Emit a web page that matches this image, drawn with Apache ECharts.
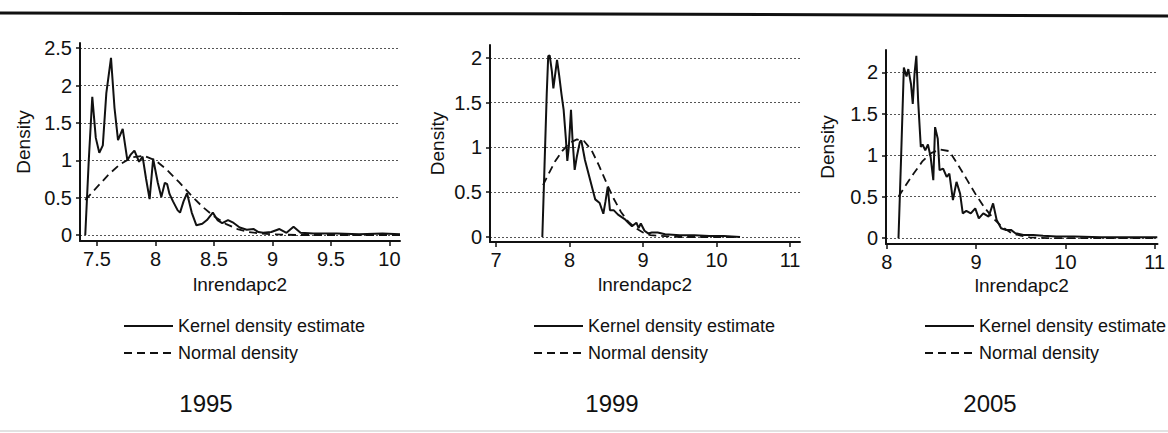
<!DOCTYPE html>
<html>
<head>
<meta charset="utf-8">
<script src="https://cdn.jsdelivr.net/npm/echarts@6/dist/echarts.min.js"></script>
<style>
html,body{margin:0;padding:0;background:#fff;}
#chart{width:1168px;height:433px;}
</style>
</head>
<body>
<div id="chart"></div>
<script>
// ---- data ----
const years = ['1995', '1999', '2005'];
const xTitle = 'lnrendapc2';
const yTitle = 'Density';
const legendNames = ['Kernel density estimate', 'Normal density'];

const xTicks1995 = [7.5, 8, 8.5, 9, 9.5, 10];
const xTicks1999 = [7, 8, 9, 10, 11];
const xTicks2005 = [8, 9, 10, 11];
const yTicks1995 = [0, 0.5, 1, 1.5, 2, 2.5];
const yTicks1999 = [0, 0.5, 1, 1.5, 2];
const yTicks2005 = [0, 0.5, 1, 1.5, 2];

const kernel1995 = [
  [7.40,0],[7.43,1.0],[7.46,1.85],[7.49,1.3],[7.52,1.1],[7.55,1.2],[7.58,1.9],[7.62,2.37],
  [7.65,1.7],[7.68,1.27],[7.72,1.42],[7.76,1.0],[7.79,1.08],[7.82,1.13],[7.86,0.98],[7.89,1.05],
  [7.92,0.75],[7.95,0.48],[7.98,1.02],[8.02,0.7],[8.05,0.51],[8.08,0.7],[8.10,0.68],[8.12,0.55],
  [8.15,0.45],[8.19,0.33],[8.21,0.3],[8.24,0.45],[8.27,0.56],[8.31,0.3],[8.35,0.13],[8.40,0.15],
  [8.44,0.2],[8.49,0.3],[8.53,0.2],[8.57,0.16],[8.62,0.2],[8.66,0.17],[8.72,0.1],[8.78,0.07],
  [8.84,0.08],[8.88,0.04],[8.92,0.03],[8.99,0.04],[9.06,0.08],[9.12,0.03],[9.18,0.11],[9.24,0.03],
  [9.35,0.02],[9.55,0.02],[9.74,0.01],[9.94,0.02],[10.09,0.01]
];
const normal1995 = [
  [7.40,0.47],[7.50,0.64],[7.60,0.81],[7.70,0.95],[7.80,1.04],[7.90,1.06],[8.00,1.00],[8.10,0.87],
  [8.20,0.71],[8.30,0.54],[8.40,0.38],[8.50,0.25],[8.60,0.15],[8.70,0.08],[8.80,0.04],[8.90,0.02],
  [9.00,0.01],[9.20,0.0],[10.09,0.0]
];
const kernel1999 = [
  [7.63,0],[7.66,0.8],[7.69,1.6],[7.71,2.02],[7.73,2.03],[7.76,1.85],[7.78,1.66],[7.81,1.85],
  [7.83,1.98],[7.86,1.8],[7.89,1.6],[7.92,1.42],[7.95,1.1],[7.97,0.85],[7.99,1.0],[8.02,1.42],
  [8.04,1.1],[8.07,0.75],[8.10,0.9],[8.14,1.06],[8.16,1.08],[8.21,0.86],[8.28,0.64],[8.35,0.42],
  [8.41,0.38],[8.46,0.26],[8.49,0.4],[8.52,0.56],[8.55,0.3],[8.60,0.3],[8.66,0.25],[8.75,0.2],
  [8.80,0.16],[8.85,0.12],[8.91,0.16],[8.94,0.1],[8.97,0.15],[9.02,0.07],[9.07,0.04],[9.12,0.05],
  [9.20,0.05],[9.30,0.03],[9.50,0.02],[9.70,0.02],[9.90,0.01],[10.10,0.01],[10.32,0.0]
];
const normal1999 = [
  [7.64,0.58],[7.70,0.68],[7.80,0.84],[7.90,0.96],[8.00,1.05],[8.10,1.09],[8.20,1.07],[8.30,0.97],
  [8.40,0.80],[8.50,0.61],[8.60,0.43],[8.70,0.28],[8.80,0.17],[8.90,0.10],[9.00,0.05],[9.10,0.02],
  [9.30,0.01],[9.50,0.0],[10.32,0.0]
];
const kernel2005 = [
  [8.13,0],[8.16,1.0],[8.19,2.06],[8.22,1.95],[8.24,2.04],[8.27,1.86],[8.29,1.62],[8.31,1.99],
  [8.33,2.2],[8.35,1.66],[8.38,1.1],[8.40,1.13],[8.43,1.06],[8.46,1.13],[8.49,0.98],[8.52,0.7],
  [8.54,1.34],[8.57,1.2],[8.59,0.82],[8.63,0.84],[8.67,0.74],[8.70,0.78],[8.74,0.46],[8.78,0.68],
  [8.82,0.54],[8.85,0.3],[8.89,0.33],[8.94,0.3],[8.99,0.36],[9.03,0.24],[9.08,0.3],[9.14,0.26],
  [9.19,0.42],[9.23,0.22],[9.28,0.12],[9.33,0.1],[9.39,0.1],[9.44,0.06],[9.53,0.04],[9.64,0.04],
  [9.75,0.03],[9.90,0.02],[10.10,0.02],[10.40,0.01],[10.70,0.01],[11.03,0.01]
];
const normal2005 = [
  [8.13,0.5],[8.20,0.62],[8.30,0.78],[8.40,0.93],[8.50,1.03],[8.60,1.07],[8.70,1.05],[8.80,0.88],
  [8.90,0.70],[9.00,0.52],[9.10,0.36],[9.20,0.23],[9.30,0.13],[9.40,0.06],[9.50,0.03],[9.60,0.01],
  [9.80,0.0],[11.03,0.0]
];

// ---- layout / style ----
const FONT = "'Liberation Sans', Arial, sans-serif";
const INK = '#111';

const panels = [
  {grid:{left:80, top:43, width:320, height:198}, xMin:7.355, xMax:10.09, yMin:-0.08, yMax:2.57,
   xTicks:xTicks1995, yTicks:yTicks1995, kernel:kernel1995, normal:normal1995, nameGapY:47, nameGapX:34,
   legendLeft:118, yearX:206},
  {grid:{left:490, top:45, width:310, height:197}, xMin:6.918, xMax:11.136, yMin:-0.056, yMax:2.145,
   xTicks:xTicks1999, yTicks:yTicks1999, kernel:kernel1999, normal:normal1999, nameGapY:43, nameGapX:33,
   legendLeft:528, yearX:612},
  {grid:{left:886, top:50, width:282, height:194}, xMin:7.99, xMax:11.032, yMin:-0.07, yMax:2.27,
   xTicks:xTicks2005, yTicks:yTicks2005, kernel:kernel2005, normal:normal2005, nameGapY:49, nameGapX:32,
   legendLeft:919, yearX:990}
];

const option = {
  animation: false,
  backgroundColor: '#fff',
  textStyle: {fontFamily: FONT, color: INK},
  grid: [], xAxis: [], yAxis: [], series: [], legend: [],
  graphic: []
};

panels.forEach((p, i) => {
  option.grid.push(Object.assign({containLabel:false}, p.grid));
  option.xAxis.push({
    type:'value', gridIndex:i, min:p.xMin, max:p.xMax,
    name:xTitle, nameLocation:'middle', nameGap:p.nameGapX,
    nameTextStyle:{fontSize:19, color:INK, fontFamily:FONT},
    axisLine:{show:true, onZero:false, lineStyle:{color:INK, width:2}},
    axisTick:{show:true, length:5, inside:false, customValues:p.xTicks, lineStyle:{color:INK, width:1.5}},
    axisLabel:{show:true, margin:8, fontSize:20, color:INK, fontFamily:FONT, customValues:p.xTicks},
    splitLine:{show:false}
  });
  option.yAxis.push({
    type:'value', gridIndex:i, min:p.yMin, max:p.yMax,
    name:yTitle, nameLocation:'middle', nameGap:p.nameGapY,
    nameTextStyle:{fontSize:19, color:INK, fontFamily:FONT},
    axisLine:{show:true, onZero:false, lineStyle:{color:INK, width:2}},
    axisTick:{show:true, length:4, inside:false, customValues:p.yTicks, lineStyle:{color:INK, width:1.5}},
    axisLabel:{show:true, margin:8, fontSize:20, color:INK, fontFamily:FONT, customValues:p.yTicks},
    splitLine:{show:true, lineStyle:{color:'#555', width:1, type:[2,2]}}
  });
  option.series.push({
    name:legendNames[0], type:'line', xAxisIndex:i, yAxisIndex:i,
    data:p.kernel, showSymbol:false, symbol:'none', smooth:false,
    lineStyle:{color:INK, width:2}, itemStyle:{color:INK}
  });
  option.series.push({
    name:legendNames[1], type:'line', xAxisIndex:i, yAxisIndex:i,
    data:p.normal, showSymbol:false, symbol:'none', smooth:false,
    lineStyle:{color:INK, width:1.8, type:[8,5]}, itemStyle:{color:INK}
  });
  option.legend.push({
    orient:'vertical', left:p.legendLeft, top:312, itemGap:9,
    itemWidth:49, itemHeight:14,
    selectedMode:false,
    itemStyle:{opacity:0, borderWidth:0, color:'rgba(0,0,0,0)'},
    textStyle:{fontSize:18, color:INK, fontFamily:FONT},
    data:legendNames.map(n => ({name:n}))
  });
  option.graphic.push({
    type:'text', x:p.yearX, y:403, z:10,
    style:{text:years[i], fill:INK, font:'24px ' + FONT, align:'center', verticalAlign:'middle'}
  });
});

// scan border lines (top rule, faint bottom rule)
option.graphic.push({type:'polyline', shape:{points:[[0,13],[600,14],[1168,16]]}, style:{stroke:INK, lineWidth:3, fill:null}});
option.graphic.push({type:'line', shape:{x1:0, y1:431, x2:1168, y2:431}, style:{stroke:'#e2e2e2', lineWidth:2}});

const chart = echarts.init(document.getElementById('chart'), null, {renderer:'svg'});
chart.setOption(option);
</script>
</body>
</html>
